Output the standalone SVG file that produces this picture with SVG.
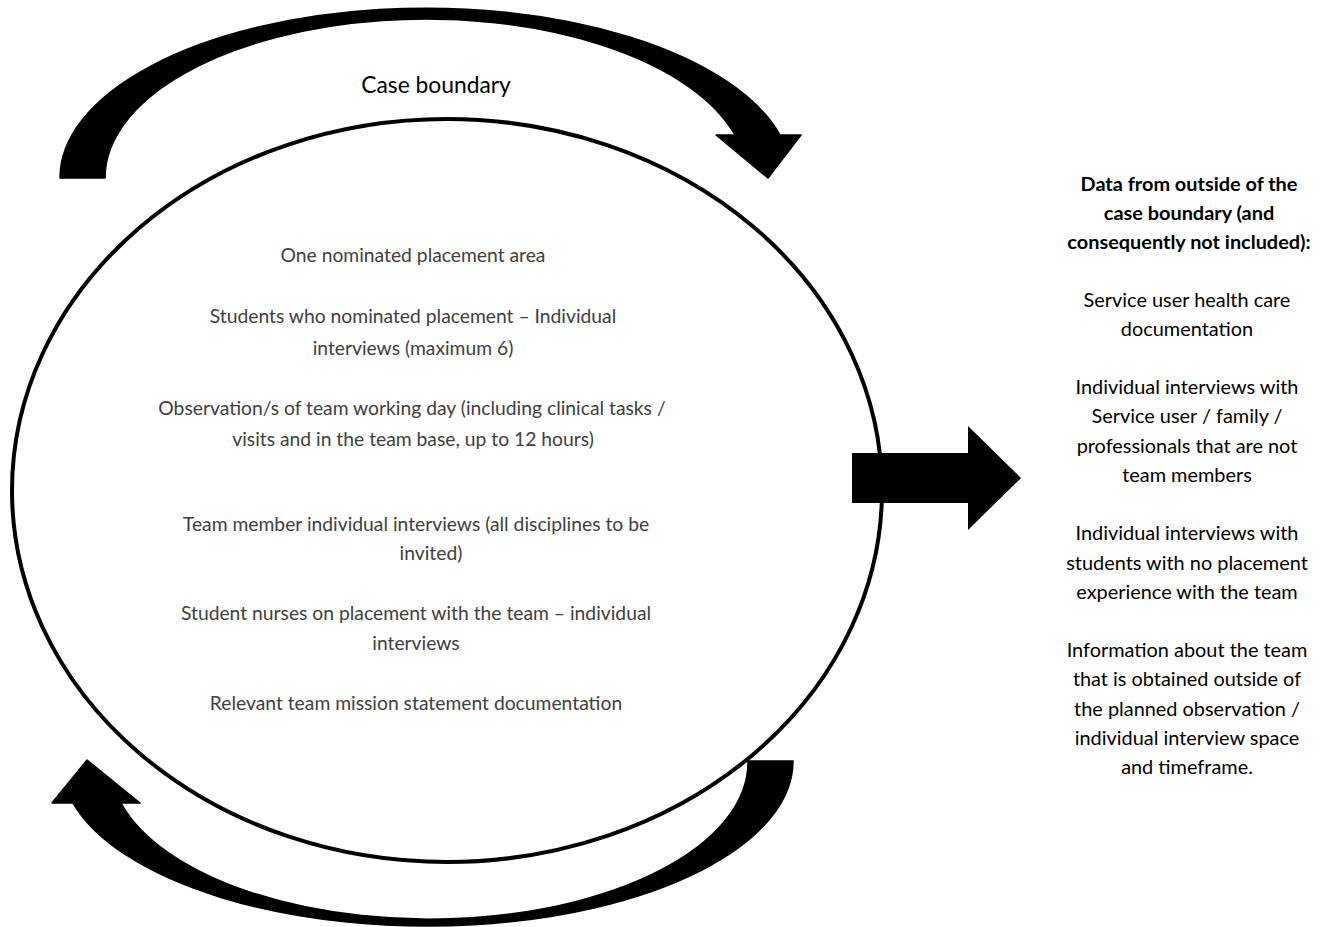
<svg xmlns="http://www.w3.org/2000/svg" width="1327" height="927" viewBox="0 0 1327 927">
  <style>
    .inner { font-family: Lato, "Liberation Sans", sans-serif; font-size: 19.3px; fill: #404040; text-anchor: middle; }
    .side { font-family: Lato, "Liberation Sans", sans-serif; font-size: 19.9px; fill: #000; text-anchor: middle; }
    .side-b { font-weight: bold; }
    .title { font-family: Lato, "Liberation Sans", sans-serif; font-size: 22.8px; fill: #000; text-anchor: middle; }
    .flow { fill: #000; stroke: #000; stroke-width: 1.5; stroke-linejoin: round; }
  </style>
  <rect width="1327" height="927" fill="#fff"/>

  <!-- boundary arrows circling the case -->
  <g id="connectors">
    <path id="arrow-top" class="flow" d="M 60,178 A 366 170 0 0 1 780,135 L 801,135 L 768,178 L 716,135 L 735,135 A 321 159 0 0 0 105,178 Z"/>
    <path id="arrow-bottom" class="flow" d="M 793,761 A 366 165 0 0 1 73,803 L 52,803 L 87,760 L 140,803 L 121,803 A 319 157 0 0 0 748,761 Z"/>
    <path id="arrow-out" fill="#000" d="M 852,453 L 968,453 L 968,426 L 1021,478 L 968,530 L 968,503 L 852,503 Z"/>
  </g>

  <g id="case-title">
    <text class="title" x="436" y="93">Case boundary</text>
  </g>

  <!-- the case itself -->
  <g id="case">
    <ellipse cx="447" cy="490.5" rx="435" ry="371.5" fill="none" stroke="#000" stroke-width="4"/>
    <text class="inner" x="413" y="262">One nominated placement area</text>
    <text class="inner" x="413" y="323">Students who nominated placement – Individual</text>
    <text class="inner" x="413" y="355">interviews (maximum 6)</text>
    <text class="inner" x="412" y="415">Observation/s of team working day (including clinical tasks /</text>
    <text class="inner" x="413" y="446">visits and in the team base, up to 12 hours)</text>
    <text class="inner" x="416" y="531">Team member individual interviews (all disciplines to be</text>
    <text class="inner" x="431" y="560">invited)</text>
    <text class="inner" x="416" y="620">Student nurses on placement with the team – individual</text>
    <text class="inner" x="416" y="650">interviews</text>
    <text class="inner" x="416" y="710">Relevant team mission statement documentation</text>
  </g>

  <!-- data left outside the case -->
  <g id="outside">
    <text class="side side-b" x="1189" y="191">Data from outside of the</text>
    <text class="side side-b" x="1189" y="220">case boundary (and</text>
    <text class="side side-b" x="1189" y="249">consequently not included):</text>
    <text class="side" x="1187" y="307">Service user health care</text>
    <text class="side" x="1187" y="336">documentation</text>
    <text class="side" x="1187" y="394">Individual interviews with</text>
    <text class="side" x="1187" y="423">Service user / family /</text>
    <text class="side" x="1187" y="453">professionals that are not</text>
    <text class="side" x="1187" y="482">team members</text>
    <text class="side" x="1187" y="540">Individual interviews with</text>
    <text class="side" x="1187" y="570">students with no placement</text>
    <text class="side" x="1187" y="599">experience with the team</text>
    <text class="side" x="1187" y="657">Information about the team</text>
    <text class="side" x="1187" y="686">that is obtained outside of</text>
    <text class="side" x="1187" y="716">the planned observation /</text>
    <text class="side" x="1187" y="745">individual interview space</text>
    <text class="side" x="1187" y="774">and timeframe.</text>
  </g>
</svg>
